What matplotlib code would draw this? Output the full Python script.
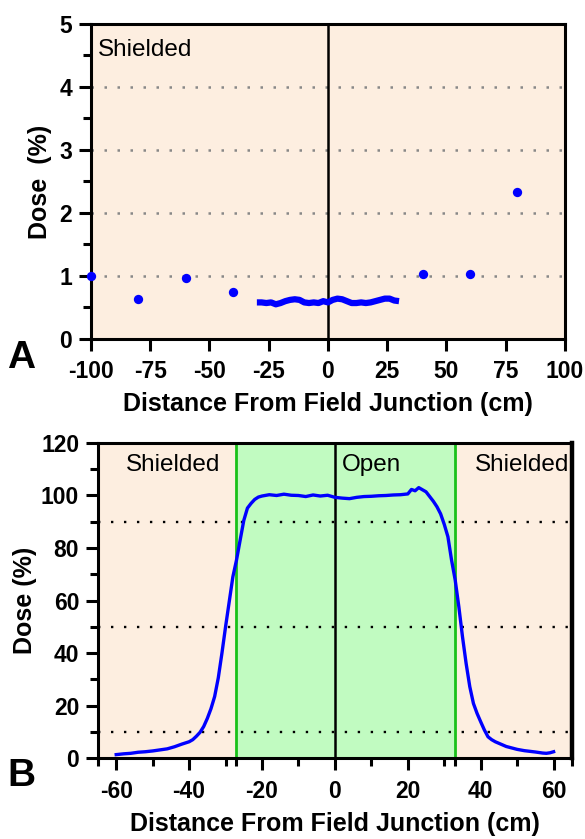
import numpy as np
import matplotlib.pyplot as plt
from matplotlib.ticker import MultipleLocator, FixedLocator

plt.rcParams['font.family'] = ['Liberation Sans', 'DejaVu Sans']
plt.rcParams['axes.unicode_minus'] = False

###########################
# data

# panel A: point measurements (cm, % dose)
a_point_x = [-100, -80, -60, -40, 40, 60, 80]
a_point_y = [1.00, 0.63, 0.97, 0.74, 1.03, 1.03, 2.33]

# panel A: profile through junction region
a_line_x = [-30, -28, -26, -24, -22, -20, -18, -16, -14, -12, -10, -8, -6, -4, -2,
            0, 2, 4, 6, 8, 10, 12, 14, 16, 18, 20, 22, 24, 26, 28, 30]
a_line_y = [0.58, 0.58, 0.57, 0.58, 0.55, 0.57, 0.60, 0.62, 0.63, 0.62, 0.58, 0.57,
            0.58, 0.57, 0.60, 0.58, 0.62, 0.64, 0.63, 0.60, 0.57, 0.57, 0.58, 0.57,
            0.58, 0.60, 0.62, 0.64, 0.64, 0.61, 0.60]

# panel B: full field profile
b_x = [-60, -58, -56, -54, -52, -50, -48, -46, -44, -42, -40, -39, -38, -37, -36,
       -35, -34, -33, -32, -31, -30, -29, -28, -27, -26, -25, -24, -23, -22, -21,
       -20, -18, -16, -14, -12, -10, -8, -6, -4, -2, 0, 2, 4, 6, 8, 10, 12, 14, 16,
       18, 20, 21, 22, 23, 24, 25, 26, 27, 28, 29, 30, 31, 32, 33, 34, 35, 36, 37,
       38, 39, 40, 41, 42, 43, 44, 45, 47, 50, 52, 55, 57, 58, 59, 60]
b_y = [1.3, 1.6, 1.8, 2.2, 2.4, 2.7, 3.1, 3.5, 4.3, 5.3, 6.2, 7.0, 8.3, 9.8, 12.0,
       15.1, 18.8, 23.4, 30.5, 39.9, 50.0, 59.5, 69.0, 75.4, 83.0, 90.5, 95.2, 97.0,
       98.5, 99.4, 99.8, 100.3, 100.0, 100.5, 100.1, 100.0, 99.6, 100.2, 99.8, 100.1,
       99.3, 99.0, 98.8, 99.3, 99.6, 99.7, 99.9, 100.0, 100.2, 100.3, 100.6, 102.3,
       101.8, 103.0, 102.2, 101.4, 99.6, 97.8, 95.7, 93.0, 89.0, 84.3, 75.4, 67.8,
       57.6, 46.2, 36.0, 27.2, 20.8, 17.0, 13.8, 10.7, 8.1, 7.0, 6.2, 5.6, 4.4, 3.3,
       2.8, 2.3, 1.9, 1.8, 2.0, 2.4]

# open field edges (cm)
field_edges = [-27, 33]

peach = '#fdeee0'
green_fill = '#c1fbc1'
green_line = '#19c119'
blue = '#0000ff'

fig = plt.figure(figsize=(5.85, 8.39), dpi=100)

###########################
# panel A
axA = fig.add_axes([0.1556, 0.596, 0.810, 0.3755])
axA.set_facecolor(peach)
axA.set_xlim(-100, 100)
axA.set_ylim(0, 5)
for yv in [1, 2, 3, 4]:
    axA.axhline(yv, color='#888888', linestyle=(0, (1, 4.2)), linewidth=1.8, zorder=1)
axA.axvline(0, color='black', linewidth=1.8, zorder=2)
axA.plot(a_line_x, a_line_y, color=blue, linewidth=4.5, zorder=3, solid_capstyle='butt')
axA.scatter(a_point_x, a_point_y, s=45, color=blue, zorder=4, clip_on=False, linewidths=0)
axA.xaxis.set_major_locator(MultipleLocator(25))
axA.yaxis.set_major_locator(MultipleLocator(1))
axA.yaxis.set_minor_locator(MultipleLocator(0.5))
axA.text(-97, 4.59, 'Shielded', fontsize=17.5, va='center', ha='left')
axA.set_ylabel('Dose  (%)', fontsize=18, fontweight='bold', labelpad=5)
axA.set_xlabel('Distance From Field Junction (cm)', fontsize=18, fontweight='bold', labelpad=6)
fig.text(0.012, 0.573, 'A', fontsize=28, fontweight='bold', va='center', ha='left')

###########################
# panel B
axB = fig.add_axes([0.1675, 0.0965, 0.810, 0.3755])
axB.set_xlim(-65, 65)
axB.set_ylim(0, 120)
axB.axvspan(-65, field_edges[0], color=peach, zorder=0, linewidth=0)
axB.axvspan(field_edges[0], field_edges[1], color=green_fill, zorder=0, linewidth=0)
axB.axvspan(field_edges[1], 65, color=peach, zorder=0, linewidth=0)
for yv in [10, 50, 90]:
    axB.axhline(yv, color='black', linestyle=(0, (1, 4.5)), linewidth=1.7, zorder=1)
axB.axvline(0, color='black', linewidth=1.8, zorder=2)
for xe in field_edges:
    axB.axvline(xe, color=green_line, linewidth=2.0, zorder=2)
axB.plot(b_x, b_y, color=blue, linewidth=2.4, zorder=3)
axB.xaxis.set_major_locator(FixedLocator([-60, -40, -20, 0, 20, 40, 60]))
axB.xaxis.set_minor_locator(FixedLocator([-65, -50, -30, -27, -10, 10, 30, 33, 50, 65]))
axB.yaxis.set_major_locator(MultipleLocator(20))
axB.yaxis.set_minor_locator(MultipleLocator(10))
axB.text(-44.5, 111.6, 'Shielded', fontsize=17.5, va='center', ha='center')
axB.text(1.8, 111.6, 'Open', fontsize=17.5, va='center', ha='left')
axB.text(64.3, 111.6, 'Shielded', fontsize=17.5, va='center', ha='right')
axB.set_ylabel('Dose (%)', fontsize=18, fontweight='bold', labelpad=3)
axB.set_xlabel('Distance From Field Junction (cm)', fontsize=18, fontweight='bold', labelpad=7)
fig.text(0.012, 0.075, 'B', fontsize=28, fontweight='bold', va='center', ha='left')

###########################
# common styling
for ax in (axA, axB):
    for side in ['left', 'bottom', 'top', 'right']:
        ax.spines[side].set_linewidth(2.2)
    ax.tick_params(which='major', direction='out', length=8.5, width=2.2,
                   labelsize=16.5, pad=5)
    ax.tick_params(which='minor', direction='out', length=6, width=2.2)
    ax.tick_params(axis='x', which='major', pad=7)
    for lab in ax.get_xticklabels() + ax.get_yticklabels():
        lab.set_fontweight('bold')
axB.spines['right'].set_linewidth(3.2)

fig.savefig('out.png', dpi=100)
